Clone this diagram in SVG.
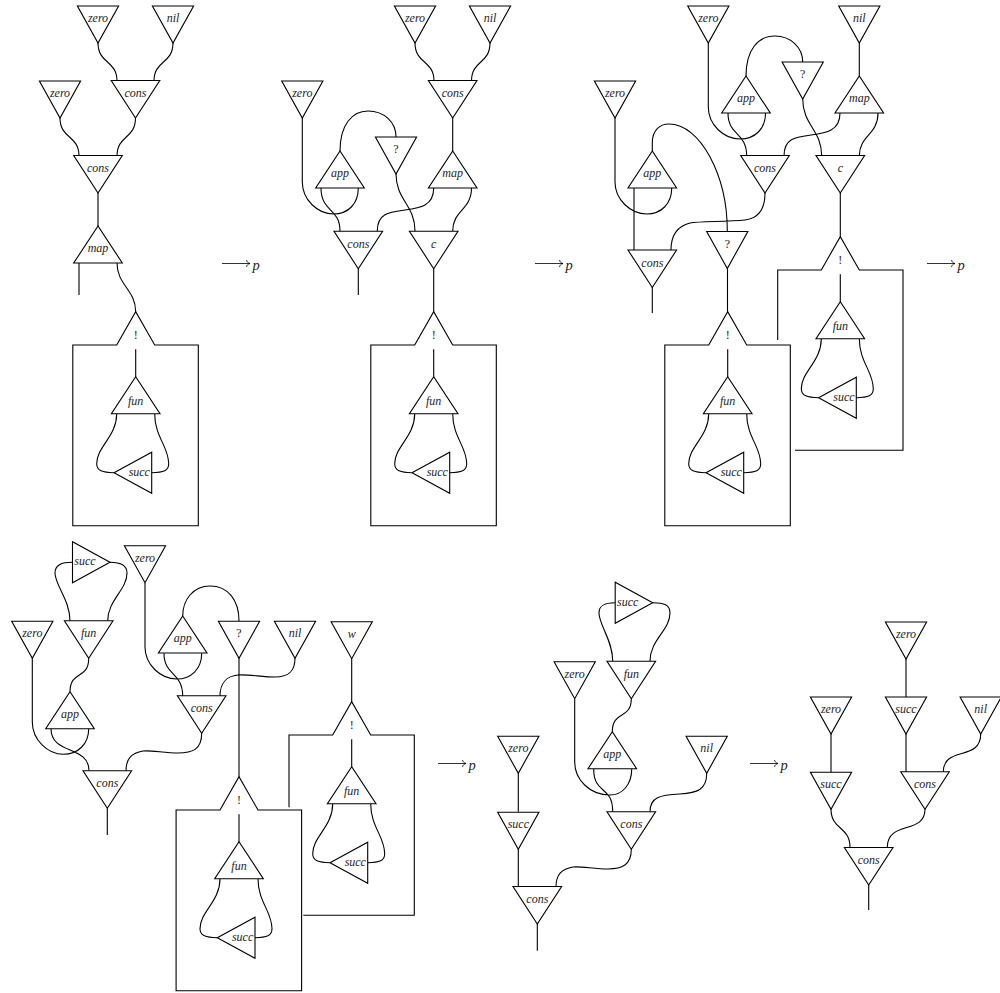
<svg xmlns="http://www.w3.org/2000/svg" xmlns:xlink="http://www.w3.org/1999/xlink" width="1000" height="993" viewBox="0 0 1000 993">
<style>
.n{fill:#fff;stroke:#000;stroke-width:1.1}
.w{fill:none;stroke:#000;stroke-width:1.1}
text{font-family:"Liberation Serif","Times New Roman",serif;font-size:12px;text-anchor:middle;fill:#222;opacity:.99}
.i{font-style:italic}
.p{font-style:italic;font-size:14.5px;text-anchor:start}
</style>
<defs>
<polygon id="ts" class="n" points="-20.6,-37 20.6,-37 0,0"/>
<polygon id="tw" class="n" points="-24.3,-37.5 24.3,-37.5 0,0"/>
<polygon id="tu" class="n" points="-24.3,37 24.3,37 0,0"/>
<polygon id="tl" class="n" points="0,0 37.7,-20.5 37.7,20.5"/>
<polygon id="tr" class="n" points="0,0 -37.5,-20.5 -37.5,20.5"/>
<path id="boxf" class="w" d="M-19,33.3 L0,0 L19,33.3 H62.6 V214 H-62.9 V33.3 Z"/>
<path id="arr" class="w" style="stroke-width:.8" d="M0,0 H28 M24.5,-3.5 C25,-1.5 26,-0.5 28,0 C26,0.5 25,1.5 24.5,3.5"/>
<path id="boxw" class="w" d="M0,37.5 V65 M-19,102 C-19,125 -39,135 -39,152 C-39,159 -33,161 -22,161 M19,102 C19,125 33,135 33,152 C33,159 28,161 16,161"/>
</defs>
<g id="connectors">
<!-- diagram 1 -->
<path class="w" d="M98,43 C98,64 117,60 117,81 M173,43 C173,64 154,60 154,81 M60,118 C60,139 79,135 79,156 M135.5,118 C135.5,139 117,135 117,156 M98,193 V226 M79,263 V295 M117,263 C117,285 135.7,290 135.7,311.7"/>
<use href="#boxw" transform="translate(135.7,311.7)"/>
<!-- diagram 2 -->
<path class="w" d="M415,43 C415,64 434,60 434,81 M490,43 C490,64 471.5,60 471.5,81 M452.7,118 V151 M302.3,118 V182 C302.3,200 318,214 333.5,214 C348,214 358.3,204 358.3,188 M340,151 C340,125 352,111 368,111 C384,111 396,122 396,137 M396,174 C396,200 415,205 415,231 M471.5,188 C471.5,210 452.7,210 452.7,231 M433.7,188 C433.7,206 420,208 405,210 C390,212 377.3,213 377.3,231 M321,188 C321,212 340,208 340,231 M358.3,268.7 V295 M433.7,268.7 V311.7"/>
<use href="#boxw" transform="translate(433.7,311.7)"/>
<!-- diagram 3 -->
<path class="w" d="M859.3,43 V76 M746,76 C746,50 758,36 775,36 C790,36 802.7,47 802.7,62 M708.3,43 V107 C708.3,125 724,139 740,139 C755,139 765.5,129 765.5,113 M728,113 C728,136 746.7,132 746.7,156 M802.7,99 C802.7,125 821.7,130 821.7,156 M878,113 C878,135 859.3,135 859.3,156 M840,113 C840,131 826,133 811,135 C796,137 784,138 784,156 M765,193 C765,205 762,218 745,220 C725,222 700,221 690,223 C678,226 671,235 671,250 M615,118 V182 C615,200 631,214 646.7,214 C661,214 671.7,204 671.7,188 M634,188 V250 M652.3,287 V313 M652.3,151 V143 C652.3,130 660,124 669,124 C700,124 727.3,175 727.3,231 M727.5,268.5 V311.7 M840.3,193 V236.7"/>
<use href="#boxw" transform="translate(727.7,311.7)"/>
<use href="#boxw" transform="translate(840.3,236.7)"/>
<!-- diagram 4 -->
<path class="w" d="M70,621 C70,600 55,585 55,573 C55,565 61,562.3 72.7,562.3 M107.7,621 C107.7,600 127,590 127,573 C127,565 121,562.3 110,562.3 M88.7,658.3 C88.7,680 70,670 70,691.7 M32.3,658.3 V722 C32.3,740 48,754.3 63.3,754.3 C78,754.3 88.7,744 88.7,728.7 M51,728.7 C51,755 89,745 89,770.7 M107.3,808.3 V835 M201.7,733.3 C201.7,750 192,753 178,753 C165,753 150,750 143,751 C132,753 126,758 126,770.7 M145,582.7 V647 C145,665 161,679 176.7,679 C191,679 201.7,669 201.7,653.3 M164,653.3 C164,676 182.7,672 182.7,696 M182.7,616 C182.7,600 193,586 210,586 C228,586 239,600 239,621 M239,658.3 V776.7 M295,658.3 C295,670 290,677 275,677 C262,677 248,674 238,675 C227,676 220,683 220,696 M351.7,658.7 V701.7"/>
<use href="#boxw" transform="translate(239,776.7)"/>
<use href="#boxw" transform="translate(351.7,701.7)"/>
<!-- diagram 5 -->
<path class="w" d="M612.7,661 C612.7,640 599,625 599,613 C599,605 605,602.7 615,602.7 M650,661 C650,640 670,630 670,613 C670,605 664,602.7 652.7,602.7 M631.3,698.7 C631.3,720 612.3,710 612.3,731.7 M574.7,698.7 V762 C574.7,780 590,795 610,795 C622,795 631.7,785 631.7,769 M593.7,769 C593.7,795 612.7,785 612.7,811.7 M706.7,773.3 C706.7,790 697,793 680,794 C660,795 650,797 650,811.7 M518.3,773.3 V811.7 M518.3,849.3 V886.7 M537.3,924 V950.7 M631.3,849.3 C631.3,865 622,869 608,869 C595,869 580,866 573,867 C562,869 556,874 556,886.7"/>
<!-- diagram 6 -->
<path class="w" d="M906,659 V697.3 M906,734 V772.3 M831,734 V772.3 M980.7,734 C980.7,762 943.3,745 943.3,772.3 M831,809.3 C831,830 850,826 850,847.3 M925,809.3 C925,835 887.3,820 887.3,847.3 M868.7,885 V910"/>
</g>
<g id="d1">
<g id="d1-zero1" transform="translate(98,43)"><use href="#ts"/><text class="i" y="-21">zero</text></g>
<g id="d1-nil" transform="translate(173,43)"><use href="#ts"/><text class="i" y="-21">nil</text></g>
<g id="d1-cons1" transform="translate(135.5,118)"><use href="#tw"/><text class="i" y="-21">cons</text></g>
<g id="d1-zero2" transform="translate(60,118)"><use href="#ts"/><text class="i" y="-21">zero</text></g>
<g id="d1-cons2" transform="translate(98,193)"><use href="#tw"/><text class="i" y="-21">cons</text></g>
<g id="d1-map" transform="translate(98,226)"><use href="#tu"/><text class="i" y="26">map</text></g>
<g id="d1-box" transform="translate(135.7,311.7)"><use href="#boxf"/><text y="27.5">!</text>
<g id="d1-fun" transform="translate(0,65)"><use href="#tu"/><text class="i" y="28">fun</text></g>
<g id="d1-succ" transform="translate(-21.7,161)"><use href="#tl"/><text class="i" x="25.3" y="3.5">succ</text></g></g>
</g>
<g id="d2">
<g id="d2-zero1" transform="translate(415,43)"><use href="#ts"/><text class="i" y="-21">zero</text></g>
<g id="d2-nil" transform="translate(490,43)"><use href="#ts"/><text class="i" y="-21">nil</text></g>
<g id="d2-cons1" transform="translate(452.7,118)"><use href="#tw"/><text class="i" y="-21">cons</text></g>
<g id="d2-zero2" transform="translate(302.3,118)"><use href="#ts"/><text class="i" y="-21">zero</text></g>
<g id="d2-app" transform="translate(340,151)"><use href="#tu"/><text class="i" y="26">app</text></g>
<g id="d2-q" transform="translate(396,174)"><use href="#ts"/><text y="-21">?</text></g>
<g id="d2-map" transform="translate(452.7,151)"><use href="#tu"/><text class="i" y="26">map</text></g>
<g id="d2-cons2" transform="translate(358.3,268.7)"><use href="#tw"/><text class="i" y="-21">cons</text></g>
<g id="d2-c" transform="translate(433.7,268.7)"><use href="#tw"/><text class="i" y="-21">c</text></g>
<g id="d2-box" transform="translate(433.7,311.7)"><use href="#boxf"/><text y="27.5">!</text>
<g id="d2-fun" transform="translate(0,65)"><use href="#tu"/><text class="i" y="28">fun</text></g>
<g id="d2-succ" transform="translate(-21.7,161)"><use href="#tl"/><text class="i" x="25.3" y="3.5">succ</text></g></g>
</g>
<g id="d3">
<g id="d3-zero1" transform="translate(708.3,43)"><use href="#ts"/><text class="i" y="-21">zero</text></g>
<g id="d3-nil" transform="translate(859.3,43)"><use href="#ts"/><text class="i" y="-21">nil</text></g>
<g id="d3-app1" transform="translate(746,76)"><use href="#tu"/><text class="i" y="26">app</text></g>
<g id="d3-q1" transform="translate(802.7,99)"><use href="#ts"/><text y="-21">?</text></g>
<g id="d3-map" transform="translate(859.3,76)"><use href="#tu"/><text class="i" y="26">map</text></g>
<g id="d3-cons1" transform="translate(765,193)"><use href="#tw"/><text class="i" y="-21">cons</text></g>
<g id="d3-c" transform="translate(840.3,193)"><use href="#tw"/><text class="i" y="-21">c</text></g>
<g id="d3-zero2" transform="translate(615,118)"><use href="#ts"/><text class="i" y="-21">zero</text></g>
<g id="d3-app2" transform="translate(652.3,151)"><use href="#tu"/><text class="i" y="26">app</text></g>
<g id="d3-cons2" transform="translate(652.3,287.5)"><use href="#tw"/><text class="i" y="-21">cons</text></g>
<g id="d3-q2" transform="translate(727.3,268.5)"><use href="#ts"/><text y="-21">?</text></g>
<g id="d3-box2" transform="translate(840.3,236.7)"><path class="w" d="M-62.6,103.3 V33.3 H-19 L0,0 L19,33.3 H62.7 V213.6 H-45.3"/><text y="27.5">!</text>
<g id="d3-fun2" transform="translate(0,65)"><use href="#tu"/><text class="i" y="28">fun</text></g>
<g id="d3-succ2" transform="translate(-21.7,161)"><use href="#tl"/><text class="i" x="25.3" y="3.5">succ</text></g></g>
<g id="d3-box1" transform="translate(727.7,311.7)"><use href="#boxf"/><text y="27.5">!</text>
<g id="d3-fun1" transform="translate(0,65)"><use href="#tu"/><text class="i" y="28">fun</text></g>
<g id="d3-succ1" transform="translate(-21.7,161)"><use href="#tl"/><text class="i" x="25.3" y="3.5">succ</text></g></g>
</g>
<g id="d4">
<g id="d4-succ" transform="translate(110,562.3)"><use href="#tr"/><text class="i" x="-25" y="3">succ</text></g>
<g id="d4-zero1" transform="translate(145,582.7)"><use href="#ts"/><text class="i" y="-21">zero</text></g>
<g id="d4-zero2" transform="translate(32.3,658.3)"><use href="#ts"/><text class="i" y="-21">zero</text></g>
<g id="d4-fun" transform="translate(88.7,658.3)"><use href="#tw"/><text class="i" y="-21">fun</text></g>
<g id="d4-app1" transform="translate(70,691.7)"><use href="#tu"/><text class="i" y="26">app</text></g>
<g id="d4-app2" transform="translate(182.7,616)"><use href="#tu"/><text class="i" y="26">app</text></g>
<g id="d4-q" transform="translate(239,658.3)"><use href="#ts"/><text y="-21">?</text></g>
<g id="d4-nil" transform="translate(295,658.3)"><use href="#ts"/><text class="i" y="-21">nil</text></g>
<g id="d4-w" transform="translate(351.7,658.7)"><use href="#ts"/><text class="i" y="-21">w</text></g>
<g id="d4-cons2" transform="translate(201.7,733.3)"><use href="#tw"/><text class="i" y="-21">cons</text></g>
<g id="d4-cons1" transform="translate(107.3,808.3)"><use href="#tw"/><text class="i" y="-21">cons</text></g>
<g id="d4-box2" transform="translate(351.7,701.7)"><path class="w" d="M-62.7,105.6 V33.3 H-19 L0,0 L19,33.3 H62.6 V213.6 H-48.4"/><text y="27.5">!</text>
<g id="d4-fun2" transform="translate(0,65)"><use href="#tu"/><text class="i" y="28">fun</text></g>
<g id="d4-succ2" transform="translate(-21.7,161)"><use href="#tl"/><text class="i" x="25.3" y="3.5">succ</text></g></g>
<g id="d4-box1" transform="translate(239,776.7)"><use href="#boxf"/><text y="27.5">!</text>
<g id="d4-fun1" transform="translate(0,65)"><use href="#tu"/><text class="i" y="28">fun</text></g>
<g id="d4-succ1" transform="translate(-21.7,161)"><use href="#tl"/><text class="i" x="25.3" y="3.5">succ</text></g></g>
</g>
<g id="d5">
<g id="d5-succ1" transform="translate(652.7,602.7)"><use href="#tr"/><text class="i" x="-25" y="3">succ</text></g>
<g id="d5-zero1" transform="translate(574.7,698.7)"><use href="#ts"/><text class="i" y="-21">zero</text></g>
<g id="d5-fun" transform="translate(631.3,698.7)"><use href="#tw"/><text class="i" y="-21">fun</text></g>
<g id="d5-app" transform="translate(612.3,731.7)"><use href="#tu"/><text class="i" y="26">app</text></g>
<g id="d5-nil" transform="translate(706.7,773.3)"><use href="#ts"/><text class="i" y="-21">nil</text></g>
<g id="d5-zero2" transform="translate(518.3,773.3)"><use href="#ts"/><text class="i" y="-21">zero</text></g>
<g id="d5-cons2" transform="translate(631.3,849.3)"><use href="#tw"/><text class="i" y="-21">cons</text></g>
<g id="d5-succ2" transform="translate(518.3,849.3)"><use href="#ts"/><text class="i" y="-21">succ</text></g>
<g id="d5-cons1" transform="translate(537.3,924)"><use href="#tw"/><text class="i" y="-21">cons</text></g>
</g>
<g id="d6">
<g id="d6-zero1" transform="translate(906,659)"><use href="#ts"/><text class="i" y="-21">zero</text></g>
<g id="d6-zero2" transform="translate(831,734)"><use href="#ts"/><text class="i" y="-21">zero</text></g>
<g id="d6-succ1" transform="translate(906,734)"><use href="#ts"/><text class="i" y="-21">succ</text></g>
<g id="d6-nil" transform="translate(980.7,734)"><use href="#ts"/><text class="i" y="-21">nil</text></g>
<g id="d6-succ2" transform="translate(831,809.3)"><use href="#ts"/><text class="i" y="-21">succ</text></g>
<g id="d6-cons2" transform="translate(925,809.3)"><use href="#tw"/><text class="i" y="-21">cons</text></g>
<g id="d6-cons1" transform="translate(868.7,885)"><use href="#tw"/><text class="i" y="-21">cons</text></g>
</g>
<g id="arrows">
<use href="#arr" transform="translate(222,263.5)"/><text class="p" x="252.5" y="270">p</text>
<use href="#arr" transform="translate(535,263.5)"/><text class="p" x="565.5" y="270">p</text>
<use href="#arr" transform="translate(927,263.5)"/><text class="p" x="957.5" y="270">p</text>
<use href="#arr" transform="translate(438,763.5)"/><text class="p" x="468.5" y="770">p</text>
<use href="#arr" transform="translate(750,763.5)"/><text class="p" x="780.5" y="770">p</text>
</g>
</svg>
